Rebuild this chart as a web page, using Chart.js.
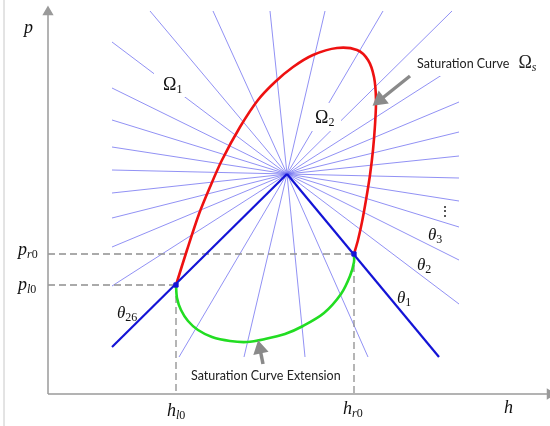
<!DOCTYPE html>
<html><head><meta charset="utf-8">
<script src="https://cdn.jsdelivr.net/npm/chart.js@4"></script>
<style>html,body{margin:0;padding:0;background:#fff}#w{width:550px;height:426px;position:relative}</style>
</head><body><div id="w"><canvas id="c"></canvas></div>
<script>
// ---- data (h, p) ----
const center = [239, 220];
// far ends of the thin constant-angle lines (rays) from the centre
const rayEndH = [411,411,411,411,411,411,411,411,411, 404,335,277,222,165,102, 64,64,64,64,64,64,64,64,64, 131,196,257,320];
const rayEndP = [90,134,167,193,216,238,262,292,330, 383,383,383,383,383,383, 352,306,274,247,224,201,176,147,108, 37,37,37,37];
// thick rays theta1 and theta26
const thickEndH = [391, 64];
const thickEndP = [37, 47];
// saturation curve (red)
const satH = [128,139,151,162,174,192,210,227,245,265,289,309,320,326,328,327,325,322,318,314,310,306];
const satP = [109,144,180,207,234,267,294,312,327,339,346,344,334,317,294,269,244,219,194,172,154,140];
// saturation curve extension (green)
const extH = [128,129,133,140,150,164,182,199,217,237,255,276,293,302,306,306];
const extP = [109,96,84,73,64,57,53,52,55,60,68,81,100,118,132,140];
// intersection points (h_l0,p_l0) and (h_r0,p_r0)
const pointH = [128, 306];
const pointP = [109, 140];
// axes extents
const axisH = [0, 502];
const axisP = [0, 382];

const pts = (hs, ps) => hs.map((h, i) => ({x: h, y: ps[i]}));
const C = {x: center[0], y: center[1]};

const datasets = [];
// thin rays
rayEndH.forEach((h, i) => datasets.push({
  data: [C, {x: h, y: rayEndP[i]}], borderColor: 'rgba(110,110,240,0.85)', borderWidth: 0.9,
  pointRadius: 0, order: 20
}));
// dashed guides
const dash = {borderColor: '#8e8e8e', borderWidth: 1.3, borderDash: [7, 4], pointRadius: 0, order: 15};
datasets.push({...dash, data: [{x: axisH[0], y: pointP[1]}, {x: pointH[1], y: pointP[1]}]});
datasets.push({...dash, data: [{x: axisH[0], y: pointP[0]}, {x: pointH[0], y: pointP[0]}]});
datasets.push({...dash, data: [{x: pointH[0], y: pointP[0]}, {x: pointH[0], y: axisP[0]}]});
datasets.push({...dash, data: [{x: pointH[1], y: pointP[1]}, {x: pointH[1], y: axisP[0]}]});
// axes with arrow heads
datasets.push({data: [{x: axisH[0], y: axisP[0]}, {x: axisH[0], y: axisP[1]}], borderColor: '#9a9a9a', backgroundColor: '#9a9a9a', borderWidth: 1.5,
  pointStyle: 'triangle', pointRadius: [0, 5], pointRotation: 0, order: 12});
datasets.push({data: [{x: axisH[0], y: axisP[0]}, {x: axisH[1], y: axisP[0]}], borderColor: '#9a9a9a', backgroundColor: '#9a9a9a', borderWidth: 1.5,
  pointStyle: 'triangle', pointRadius: [0, 5], pointRotation: 90, order: 12});
// frame line at the left
datasets.push({data: [{x: -44, y: -40}, {x: -44, y: 400}], borderColor: '#c8c8c8', borderWidth: 1, pointRadius: 0, order: 12});
// curves
datasets.push({data: pts(extH, extP), borderColor: '#22dd22', borderWidth: 2.6, pointRadius: 0, tension: 0.3, order: 6});
datasets.push({data: pts(satH, satP), borderColor: '#ee1111', borderWidth: 2.6, pointRadius: 0, tension: 0.3, order: 6});
// thick rays
thickEndH.forEach((h, i) => datasets.push({
  data: [C, {x: h, y: thickEndP[i]}], borderColor: '#1414d6', borderWidth: 2.2, pointRadius: 0, order: 4
}));
// points
datasets.push({data: pts(pointH, pointP), showLine: false, pointRadius: 3, pointStyle: 'rect',
  backgroundColor: '#1414d6', borderColor: '#1414d6', order: 2});
// gray annotation arrows
datasets.push({data: [{x: 362, y: 318}, {x: 332, y: 294}], borderColor: '#8a8a8a', backgroundColor: '#8a8a8a', borderWidth: 3.5,
  pointStyle: 'triangle', pointRadius: [0, 6], pointRotation: 232, order: 1});
datasets.push({data: [{x: 215, y: 30}, {x: 212, y: 45}], borderColor: '#8a8a8a', backgroundColor: '#8a8a8a', borderWidth: 3.5,
  pointStyle: 'triangle', pointRadius: [0, 5.5], pointRotation: -12, order: 1});

// ---- labels ----
const serif = '"Liberation Serif", "DejaVu Serif", serif';
const sans = 'Lato, "Open Sans", sans-serif';
const mathLabels = [
  {h: -24, p: 361, parts: [['p', 18, 1, 0]]},
  {h: 456, p: -19, parts: [['h', 18, 1, 0]]},
  {h: 119, p: -22, parts: [['h', 18, 1, 0], ['l', 12, 1, 3], ['0', 12, 0, 3]]},
  {h: 295, p: -20, parts: [['h', 18, 1, 0], ['r', 12, 1, 3], ['0', 12, 0, 3]]},
  {h: -30, p: 139, parts: [['p', 18, 1, 0], ['r', 12, 1, 3], ['0', 12, 0, 3]]},
  {h: -30, p: 104, parts: [['p', 18, 1, 0], ['l', 12, 1, 3], ['0', 12, 0, 3]]},
  {h: 349, p: 91, parts: [['θ', 17, 1, 0], ['1', 12, 0, 3]]},
  {h: 369, p: 124, parts: [['θ', 17, 1, 0], ['2', 12, 0, 3]]},
  {h: 380, p: 154, parts: [['θ', 17, 1, 0], ['3', 12, 0, 3]]},
  {h: 69, p: 76, parts: [['θ', 17, 1, 0], ['26', 12, 0, 3]]},
  {h: 115, p: 304, box: [154, 70, 190, 97], parts: [['Ω', 18, 0, 0], ['1', 12, 0, 3]]},
  {h: 267, p: 271, box: [310, 103, 341, 131], parts: [['Ω', 18, 0, 0], ['2', 12, 0, 3]]},
];

const textPlugin = {
  id: 'texts',
  afterDatasetsDraw(chart) {
    const ctx = chart.ctx, xs = chart.scales.x, ys = chart.scales.y;
    const X = v => xs.getPixelForValue(v), Y = v => ys.getPixelForValue(v);
    ctx.save();
    ctx.fillStyle = '#fff';
    // white boxes behind labels
    ctx.fillRect(X(364), Y(342), 140, 24);
    mathLabels.forEach(l => { if (l.box) ctx.fillRect(l.box[0], l.box[1], l.box[2] - l.box[0], l.box[3] - l.box[1]); });
    ctx.fillStyle = '#111';
    ctx.textBaseline = 'alphabetic';
    mathLabels.forEach(l => {
      let cx = X(l.h); const y = Y(l.p);
      l.parts.forEach(([t, s, it, dy]) => {
        ctx.font = (it ? 'italic ' : '') + s + 'px ' + serif;
        ctx.fillText(t, cx, y + dy);
        cx += ctx.measureText(t).width;
      });
    });
    // vertical dots
    ctx.font = '14px ' + serif;
    ctx.fillText('⋮', X(390), Y(178));
    // saturation curve labels
    ctx.font = '12.5px ' + sans;
    ctx.fillStyle = '#222';
    ctx.fillText('Saturation Curve', X(369), Y(326));
    let w = ctx.measureText('Saturation Curve').width;
    ctx.font = '18px ' + serif;
    ctx.fillText('Ω', X(369) + w + 9, Y(326));
    let w2 = ctx.measureText('Ω').width;
    ctx.font = 'italic 12px ' + serif;
    ctx.fillText('s', X(369) + w + 9 + w2, Y(326) + 3);
    ctx.font = '12.5px ' + sans;
    ctx.fillText('Saturation Curve Extension', X(143), Y(14));
    ctx.restore();
  }
};

new Chart(document.getElementById('c'), {
  type: 'scatter',
  data: {datasets: datasets.map(d => ({showLine: true, fill: false, clip: false, ...d}))},
  options: {
    responsive: true, maintainAspectRatio: false, animation: false, devicePixelRatio: 1,
    layout: {padding: 0, autoPadding: false},
    plugins: {legend: {display: false}, tooltip: {enabled: false}},
    events: [],
    scales: {
      x: {type: 'linear', min: -48, max: 502, display: false},
      y: {type: 'linear', min: -32, max: 394, display: false}
    }
  },
  plugins: [textPlugin]
});
</script>
</body></html>
